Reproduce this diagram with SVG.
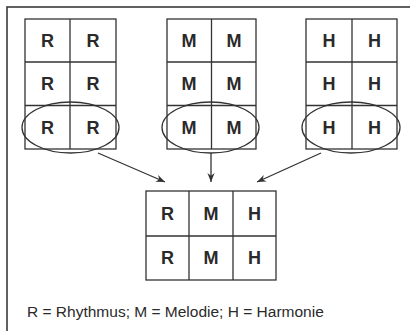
<svg xmlns="http://www.w3.org/2000/svg" width="410" height="331" viewBox="0 0 410 331">
<defs>
<style>
.frame{fill:none;stroke:#3a3a3a;stroke-width:1.6}
.cell{fill:#fff;stroke:#333;stroke-width:1.3}
.ell{fill:none;stroke:#333;stroke-width:1.3}
.lbl{font-family:"Liberation Sans",Arial,sans-serif;font-weight:bold;font-size:18px;fill:#2a2a2a;text-anchor:middle}
.leg{font-family:"Liberation Sans",Arial,sans-serif;font-size:15.5px;fill:#2a2a2a}
.conn{stroke:#333;stroke-width:1.3;fill:none}
</style>
<marker id="ah" viewBox="0 0 10 10" refX="10" refY="5" markerWidth="9" markerHeight="9" markerUnits="userSpaceOnUse" orient="auto">
<path d="M0,1 L10,5 L0,9 L3,5 Z" fill="#333"/>
</marker>
</defs>
<rect width="410" height="331" fill="#fff"/>
<rect class="frame" x="7" y="7" width="410" height="340"/>

<g id="gridR">
<rect class="cell" x="25" y="19" width="91" height="130"/>
<path class="cell" d="M70,19 V149 M25,62 H116 M25,105.5 H116"/>
<text class="lbl" x="47.5" y="47">R</text><text class="lbl" x="93" y="47">R</text>
<text class="lbl" x="47.5" y="90">R</text><text class="lbl" x="93" y="90">R</text>
<text class="lbl" x="47.5" y="134">R</text><text class="lbl" x="93" y="134">R</text>
<ellipse class="ell" cx="70.5" cy="127.5" rx="48.5" ry="25.5"/>
</g>

<g id="gridM">
<rect class="cell" x="167" y="19" width="89" height="130"/>
<path class="cell" d="M211.5,19 V149 M167,62 H256 M167,105.5 H256"/>
<text class="lbl" x="189" y="47">M</text><text class="lbl" x="234" y="47">M</text>
<text class="lbl" x="189" y="90">M</text><text class="lbl" x="234" y="90">M</text>
<text class="lbl" x="189" y="134">M</text><text class="lbl" x="234" y="134">M</text>
<ellipse class="ell" cx="210.5" cy="127.5" rx="48.5" ry="25.5"/>
</g>

<g id="gridH">
<rect class="cell" x="306" y="19" width="91" height="130"/>
<path class="cell" d="M352,19 V149 M306,62 H397 M306,105.5 H397"/>
<text class="lbl" x="329" y="47">H</text><text class="lbl" x="374.5" y="47">H</text>
<text class="lbl" x="329" y="90">H</text><text class="lbl" x="374.5" y="90">H</text>
<text class="lbl" x="329" y="134">H</text><text class="lbl" x="374.5" y="134">H</text>
<ellipse class="ell" cx="351" cy="127.5" rx="49" ry="25.5"/>
</g>

<g id="connectors">
<line class="conn" x1="98" y1="153" x2="165" y2="182" marker-end="url(#ah)"/>
<line class="conn" x1="211" y1="153" x2="211" y2="182" marker-end="url(#ah)"/>
<line class="conn" x1="321" y1="153" x2="257" y2="182" marker-end="url(#ah)"/>
</g>

<g id="gridRMH">
<rect class="cell" x="146" y="191" width="130" height="89"/>
<path class="cell" d="M189,191 V280 M233,191 V280 M146,236 H276"/>
<text class="lbl" x="167.5" y="220">R</text><text class="lbl" x="211" y="220">M</text><text class="lbl" x="254.5" y="220">H</text>
<text class="lbl" x="167.5" y="264">R</text><text class="lbl" x="211" y="264">M</text><text class="lbl" x="254.5" y="264">H</text>
</g>

<text class="leg" x="27" y="317">R = Rhythmus; M = Melodie; H = Harmonie</text>
</svg>
